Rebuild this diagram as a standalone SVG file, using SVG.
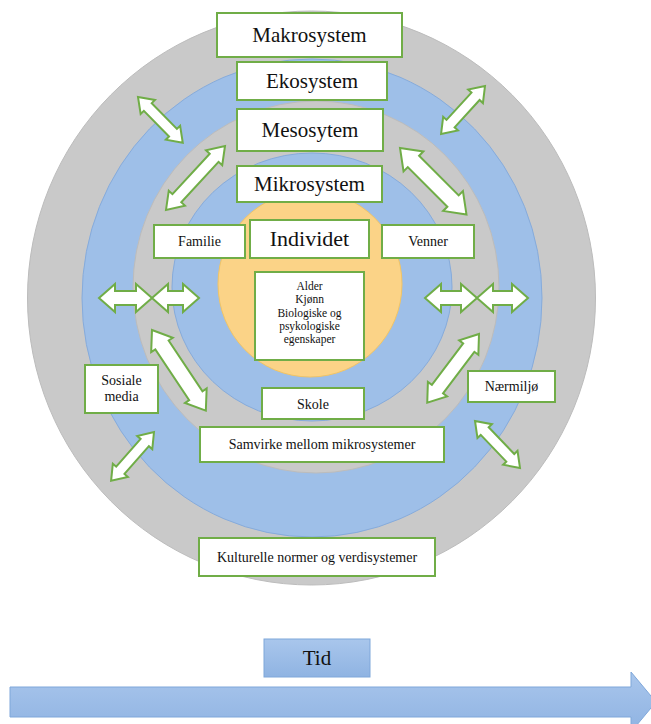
<svg xmlns="http://www.w3.org/2000/svg" width="651" height="724" viewBox="0 0 651 724">
<defs>
<linearGradient id="gBlue" x1="0" y1="0" x2="0" y2="1">
<stop offset="0" stop-color="#a9c6ec"/>
<stop offset="1" stop-color="#8fb3e2"/>
</linearGradient>
<style>
.ring-gray{fill:#c9c9c9;stroke:#bcbcbc;stroke-width:1}
.ring-blue{fill:#9ebfe8;stroke:#86abdb;stroke-width:1}
.core{fill:#fbd387;stroke:#f1c465;stroke-width:1}
.box{fill:#ffffff;stroke:#70ad47;stroke-width:2}
.arr{fill:#ffffff;stroke:#70ad47;stroke-width:2;stroke-linejoin:miter}
.t{font-family:'Liberation Serif','DejaVu Serif',serif;fill:#111;text-anchor:middle}
.h{font-size:21px}
.s{font-size:14px}
.xs{font-size:11.5px}
.blue{fill:url(#gBlue);stroke:#7fa7da;stroke-width:1}
</style>
</defs>
<rect width="651" height="724" fill="#ffffff"/>
<g id="rings">
<ellipse class="ring-gray" cx="311.5" cy="298" rx="284" ry="287"/>
<ellipse class="ring-blue" cx="312" cy="298" rx="230" ry="239"/>
<ellipse class="ring-gray" cx="316" cy="287" rx="183" ry="186"/>
<ellipse class="ring-blue" cx="312" cy="287" rx="140" ry="134"/>
<ellipse class="core" cx="310" cy="284" rx="92" ry="93"/>
</g>
<g id="connectors">
<polygon class="arr" points="0,0 14,-10 14,-5.5 50,-5.5 50,-10 64,0 50,10 50,5.5 14,5.5 14,10" transform="translate(138,97) rotate(45.6)"/>
<polygon class="arr" points="0,0 16,-11 16,-6 71,-6 71,-11 87,0 71,11 71,6 16,6 16,11" transform="translate(225,146) rotate(132.7)"/>
<polygon class="arr" points="0,0 14,-10 14,-5.5 51,-5.5 51,-10 65,0 51,10 51,5.5 14,5.5 14,10" transform="translate(485,86) rotate(132.5)"/>
<polygon class="arr" points="0,0 19,-14 19,-8 75,-8 75,-14 94,0 75,14 75,8 19,8 19,14" transform="translate(400,148) rotate(45)"/>
<polygon class="arr" points="0,0 16,-14 16,-7 37,-7 37,-14 53,0 37,14 37,7 16,7 16,14" transform="translate(99,298)"/>
<polygon class="arr" points="0,0 16,-14 16,-7 31,-7 31,-14 47,0 31,14 31,7 16,7 16,14" transform="translate(152,298)"/>
<polygon class="arr" points="0,0 16,-14 16,-7 36,-7 36,-14 52,0 36,14 36,7 16,7 16,14" transform="translate(425,298)"/>
<polygon class="arr" points="0,0 16,-14 16,-7 35,-7 35,-14 51,0 35,14 35,7 16,7 16,14" transform="translate(477,298)"/>
<polygon class="arr" points="0,0 18,-13 18,-8 79,-8 79,-13 97,0 79,13 79,8 18,8 18,13" transform="translate(152,330) rotate(56.3)"/>
<polygon class="arr" points="0,0 17,-12 17,-7 69,-7 69,-12 86,0 69,12 69,7 17,7 17,12" transform="translate(479,334) rotate(127)"/>
<polygon class="arr" points="0,0 14,-10 14,-5.5 51,-5.5 51,-10 65,0 51,10 51,5.5 14,5.5 14,10" transform="translate(154,432) rotate(131.3)"/>
<polygon class="arr" points="0,0 14,-10 14,-5.5 51,-5.5 51,-10 65,0 51,10 51,5.5 14,5.5 14,10" transform="translate(475,421) rotate(46.2)"/>
</g>
<g id="makrosystem"><rect class="box" x="217" y="13" width="185" height="44"/><text class="t h" font-family="Liberation Serif" x="309.5" y="42">Makrosystem</text></g>
<g id="ekosystem"><rect class="box" x="237" y="62" width="150" height="38"/><text class="t h" x="312" y="88">Ekosystem</text></g>
<g id="mesosytem"><rect class="box" x="237" y="109" width="146" height="42"/><text class="t h" x="310" y="137">Mesosytem</text></g>
<g id="mikrosystem"><rect class="box" x="237" y="166" width="145" height="36"/><text class="t h" x="309.5" y="191">Mikrosystem</text></g>
<g id="familie"><rect class="box" x="154" y="225" width="91" height="33"/><text class="t s" x="199.5" y="246">Familie</text></g>
<g id="individet"><rect class="box" x="250" y="220" width="119" height="38"/><text class="t" style="font-size:22px" x="309.5" y="246">Individet</text></g>
<g id="venner"><rect class="box" x="382" y="225" width="92" height="33"/><text class="t s" x="428" y="246">Venner</text></g>
<g id="egenskaper"><rect class="box" x="255" y="272" width="109" height="88"/>
<text class="t xs" x="309.5" y="290">Alder</text>
<text class="t xs" x="309.5" y="303.3">Kjønn</text>
<text class="t xs" x="309.5" y="316.6">Biologiske og</text>
<text class="t xs" x="309.5" y="330">psykologiske</text>
<text class="t xs" x="309.5" y="343.3">egenskaper</text>
</g>
<g id="sosiale-media"><rect class="box" x="85" y="365" width="73" height="48"/><text class="t s" x="121.5" y="385">Sosiale</text><text class="t s" x="121.5" y="401">media</text></g>
<g id="naermiljo"><rect class="box" x="468" y="371" width="87" height="31"/><text class="t s" x="511.5" y="391">Nærmiljø</text></g>
<g id="skole"><rect class="box" x="262" y="388" width="102" height="31"/><text class="t s" x="313" y="408.5">Skole</text></g>
<g id="samvirke"><rect class="box" x="200" y="427" width="244" height="35"/><text class="t s" x="322" y="449">Samvirke mellom mikrosystemer</text></g>
<g id="kulturelle"><rect class="box" x="199" y="538" width="236" height="38"/><text class="t s" x="317" y="562">Kulturelle normer og verdisystemer</text></g>
<g id="tid"><rect class="blue" x="264" y="639" width="106" height="38"/><text class="t h" x="317" y="665">Tid</text></g>
<g id="tidspil"><polygon class="blue" points="10,687 631,687 631,672 656,702 631,732 631,717 10,717"/></g>
</svg>
